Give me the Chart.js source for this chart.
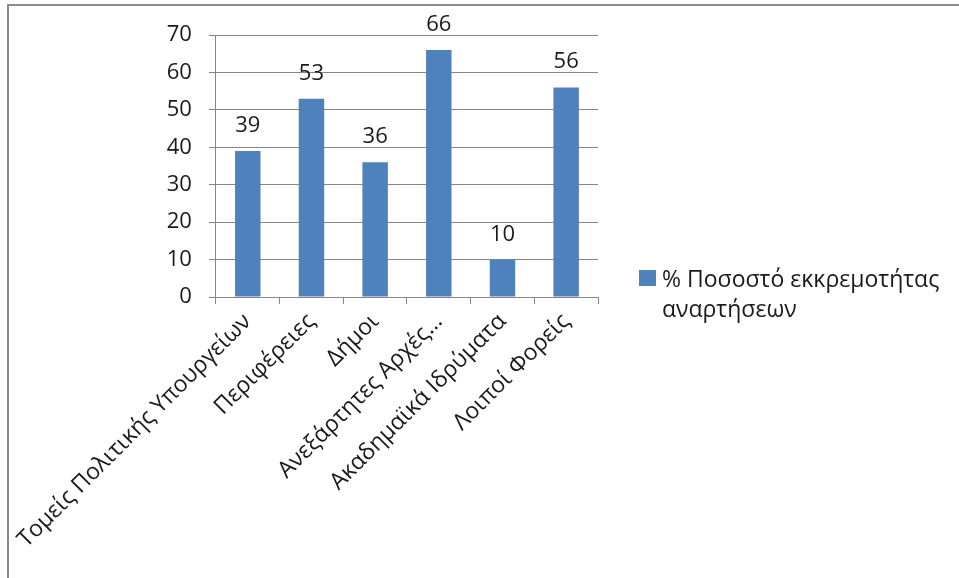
<!DOCTYPE html>
<html>
<head>
<meta charset="utf-8">
<script src="https://cdn.jsdelivr.net/npm/chart.js@4/dist/chart.umd.min.js"></script>
<style>
html,body{margin:0;padding:0;background:#fff;}
#wrap{position:relative;width:959px;height:578px;overflow:hidden;}
#frame{position:absolute;left:7px;top:4px;width:960px;height:600px;border-left:2px solid #8c8c8c;border-top:2px solid #8c8c8c;box-sizing:border-box;}
canvas{position:absolute;left:0;top:0;}
</style>
</head>
<body>
<div id="wrap">
<div id="frame"></div>
<canvas id="c" width="959" height="578"></canvas>
</div>
<script>
const categories = ["Τομείς Πολιτικής Υπουργείων", "Περιφέρειες", "Δήμοι", "Ανεξάρτητες Αρχές…", "Ακαδημαϊκά Ιδρύματα", "Λοιποί Φορείς"];
const values = [39, 53, 36, 66, 10, 56];
const seriesName = ["% Ποσοστό εκκρεμοτήτας", "αναρτήσεων"];
const yTicks = [0, 10, 20, 30, 40, 50, 60, 70];

const FONT = "'Open Sans', 'DejaVu Sans', sans-serif";
const BLUE = "#4f81bd";
const GRID = "#868686";
const TEXT = "#1a1a1a";

const valueLabels = {
  id: "valueLabels",
  afterDatasetsDraw(chart) {
    const ctx = chart.ctx;
    const meta = chart.getDatasetMeta(0);
    ctx.save();
    ctx.font = "22px " + FONT;
    ctx.fillStyle = TEXT;
    ctx.textAlign = "center";
    ctx.textBaseline = "alphabetic";
    meta.data.forEach((bar, i) => {
      ctx.fillText(String(values[i]), bar.x, bar.y - 19);
    });
    ctx.restore();
  }
};

const sideLegend = {
  id: "sideLegend",
  afterDraw(chart) {
    const ctx = chart.ctx;
    ctx.save();
    ctx.fillStyle = BLUE;
    ctx.fillRect(639, 270, 17, 16);
    ctx.font = "23px " + FONT;
    ctx.fillStyle = TEXT;
    ctx.textAlign = "left";
    ctx.textBaseline = "alphabetic";
    ctx.fillText(seriesName[0], 662, 287);
    ctx.fillText(seriesName[1], 662, 317);
    ctx.restore();
  }
};

new Chart(document.getElementById("c"), {
  type: "bar",
  data: {
    labels: categories,
    datasets: [{
      label: seriesName.join(" "),
      data: values,
      backgroundColor: BLUE,
      borderWidth: 0,
      categoryPercentage: 0.8,
      barPercentage: 0.5
    }]
  },
  options: {
    responsive: false,
    animation: false,
    devicePixelRatio: 1,
    layout: { padding: { left: 0, right: 361, top: 35, bottom: 0 } },
    plugins: {
      legend: { display: false },
      tooltip: { enabled: false }
    },
    scales: {
      x: {
        afterFit(s) { s.height = 578 - 297; },
        grid: { display: true, drawOnChartArea: false, drawTicks: true, tickLength: 7, color: GRID, offset: true },
        border: { display: true, color: GRID, width: 1 },
        ticks: {
          color: TEXT,
          font: { family: FONT, size: 23 },
          maxRotation: 45, minRotation: 45,
          autoSkip: false,
          padding: 4
        }
      },
      y: {
        min: 0, max: 70,
        afterFit(s) { s.width = 214; },
        afterBuildTicks(s) { s.ticks = yTicks.map(v => ({ value: v })); },
        grid: { color: GRID, tickLength: 7, drawTicks: true },
        border: { display: true, color: GRID, width: 1 },
        ticks: {
          color: TEXT,
          font: { family: FONT, size: 22 },
          padding: 17
        }
      }
    }
  },
  plugins: [valueLabels, sideLegend]
});
</script>
</body>
</html>
